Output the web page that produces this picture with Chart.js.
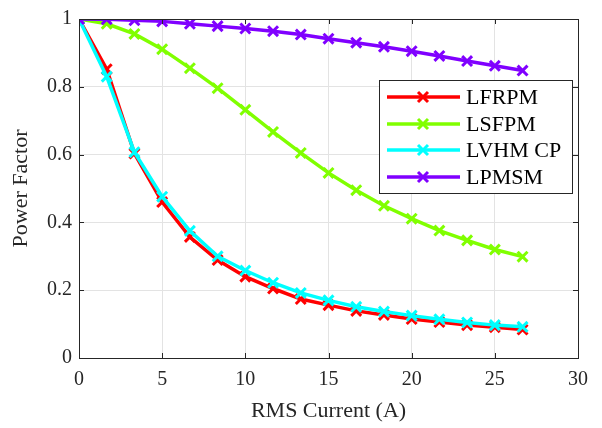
<!DOCTYPE html>
<html>
<head>
<meta charset="utf-8">
<script src="https://cdn.jsdelivr.net/npm/chart.js@4.4.0/dist/chart.umd.min.js"></script>
<style>
    html, body { margin: 0; padding: 0; background: #ffffff; }
    #wrap { width: 602px; height: 428px; position: relative; }
</style>
</head>
<body>
<div id="wrap"><canvas id="pfChart" width="602" height="428"></canvas></div>
<script>

// RMS current sample points (A)
const currents = [0, 1.667, 3.333, 5, 6.667, 8.333, 10, 11.667, 13.333, 15, 16.667, 18.333, 20, 21.667, 23.333, 25, 26.667]

// power factor per machine
const lfrpm = [1, 0.852, 0.603, 0.46, 0.357, 0.289, 0.24, 0.205, 0.174, 0.156, 0.139, 0.127, 0.115, 0.106, 0.097, 0.091, 0.084]
const lsfpm = [1, 0.986, 0.956, 0.911, 0.855, 0.796, 0.732, 0.667, 0.605, 0.546, 0.495, 0.449, 0.411, 0.376, 0.347, 0.320, 0.299]
const lvhmcp = [1, 0.830, 0.607, 0.476, 0.375, 0.300, 0.258, 0.222, 0.192, 0.170, 0.151, 0.137, 0.125, 0.114, 0.105, 0.097, 0.092]
const lpmsm = [1, 0.999, 0.996, 0.993, 0.986, 0.979, 0.972, 0.964, 0.954, 0.942, 0.930, 0.918, 0.905, 0.891, 0.876, 0.862, 0.848]

const seriesNames = ["LFRPM", "LSFPM", "LVHM CP", "LPMSM"]
const seriesColors = ["#ff0000", "#80ff00", "#00ffff", "#8000ff"]

const xTicks = [0, 5, 10, 15, 20, 25, 30]
const yTicks = [0, 0.2, 0.4, 0.6, 0.8, 1]

const FONT = "'Liberation Serif', 'Times New Roman', serif"

function toPoints(values) {
    return values.map((v, i) => ({ x: currents[i], y: v }))
}

// frame with inward ticks on all four sides
const framePlugin = {
    id: "frame",
    afterDatasetsDraw(chart) {
        const ctx = chart.ctx
        const a = chart.chartArea
        const xs = chart.scales.x
        const ys = chart.scales.y
        const t = 5
        ctx.save()
        ctx.strokeStyle = "#262626"
        ctx.lineWidth = 1
        ctx.strokeRect(a.left + 0.5, a.top + 0.5, a.right - a.left, a.bottom - a.top)
        ctx.beginPath()
        xTicks.forEach(v => {
            const px = Math.round(xs.getPixelForValue(v)) + 0.5
            ctx.moveTo(px, a.bottom); ctx.lineTo(px, a.bottom - t)
            ctx.moveTo(px, a.top); ctx.lineTo(px, a.top + t)
        })
        yTicks.forEach(v => {
            const py = Math.round(ys.getPixelForValue(v)) + 0.5
            ctx.moveTo(a.left, py); ctx.lineTo(a.left + t, py)
            ctx.moveTo(a.right, py); ctx.lineTo(a.right - t, py)
        })
        ctx.stroke()
        ctx.restore()
    }
}

// boxed legend inside the plot, upper right
const legendPlugin = {
    id: "boxLegend",
    afterDraw(chart) {
        const ctx = chart.ctx
        const bx = 379, by = 80, bw = 193, bh = 113
        const rowH = 26.7
        ctx.save()
        ctx.fillStyle = "#ffffff"
        ctx.fillRect(bx, by, bw, bh)
        ctx.strokeStyle = "#262626"
        ctx.lineWidth = 1
        ctx.strokeRect(bx + 0.5, by + 0.5, bw, bh)
        ctx.font = "22px " + FONT
        ctx.textBaseline = "middle"
        chart.data.datasets.forEach((ds, i) => {
            const cy = Math.round(by + 17 + i * rowH)
            ctx.strokeStyle = ds.borderColor
            ctx.lineWidth = 3.5
            ctx.beginPath()
            ctx.moveTo(387, cy); ctx.lineTo(460, cy)
            ctx.stroke()
            const cx = 423, r = 5
            ctx.lineWidth = 3
            ctx.beginPath()
            ctx.moveTo(cx - r, cy - r); ctx.lineTo(cx + r, cy + r)
            ctx.moveTo(cx - r, cy + r); ctx.lineTo(cx + r, cy - r)
            ctx.stroke()
            ctx.fillStyle = "#000000"
            ctx.fillText(ds.label, 466, cy + 1)
        })
        ctx.restore()
    }
}

function makeDataset(i, values) {
    return {
        label: seriesNames[i],
        data: toPoints(values),
        order: 4 - i,
        borderColor: seriesColors[i],
        backgroundColor: seriesColors[i],
        borderWidth: 3.5,
        pointStyle: "crossRot",
        pointRadius: 7,
        pointBorderWidth: 3,
        pointHoverRadius: 7,
        tension: 0,
        fill: false
    }
}

window.addEventListener("load", () => {

    const canvas = document.getElementById("pfChart")

    new Chart(canvas, {
        type: "line",
        data: {
            datasets: [
                makeDataset(0, lfrpm),
                makeDataset(1, lsfpm),
                makeDataset(2, lvhmcp),
                makeDataset(3, lpmsm)
            ]
        },
        options: {
            responsive: false,
            animation: false,
            layout: { padding: { top: 17, right: 24, left: 0, bottom: 0 } },
            plugins: {
                legend: { display: false },
                tooltip: { enabled: false }
            },
            scales: {
                x: {
                    type: "linear",
                    min: 0,
                    max: 30,
                    afterBuildTicks(scale) { scale.ticks = xTicks.map(v => ({ value: v })) },
                    afterFit(scale) { scale.height = 70 },
                    grid: { color: "#e3e3e3", drawTicks: false },
                    border: { display: false },
                    ticks: { color: "#262626", padding: 10, font: { family: FONT, size: 20 } },
                    title: {
                        display: true,
                        text: "RMS Current (A)",
                        color: "#262626",
                        padding: { top: 2 },
                        font: { family: FONT, size: 22 }
                    }
                },
                y: {
                    min: 0,
                    max: 1,
                    afterBuildTicks(scale) { scale.ticks = yTicks.map(v => ({ value: v })) },
                    afterFit(scale) { scale.width = 79 },
                    grid: { color: "#e3e3e3", drawTicks: false },
                    border: { display: false },
                    ticks: {
                        color: "#262626",
                        padding: 7,
                        font: { family: FONT, size: 20 },
                        callback: v => String(Math.round(v * 10) / 10)
                    },
                    title: {
                        display: true,
                        text: "Power Factor",
                        color: "#262626",
                        padding: { top: 8, bottom: 0 },
                        font: { family: FONT, size: 22 }
                    }
                }
            }
        },
        plugins: [framePlugin, legendPlugin]
    })

})
</script>
</body>
</html>
